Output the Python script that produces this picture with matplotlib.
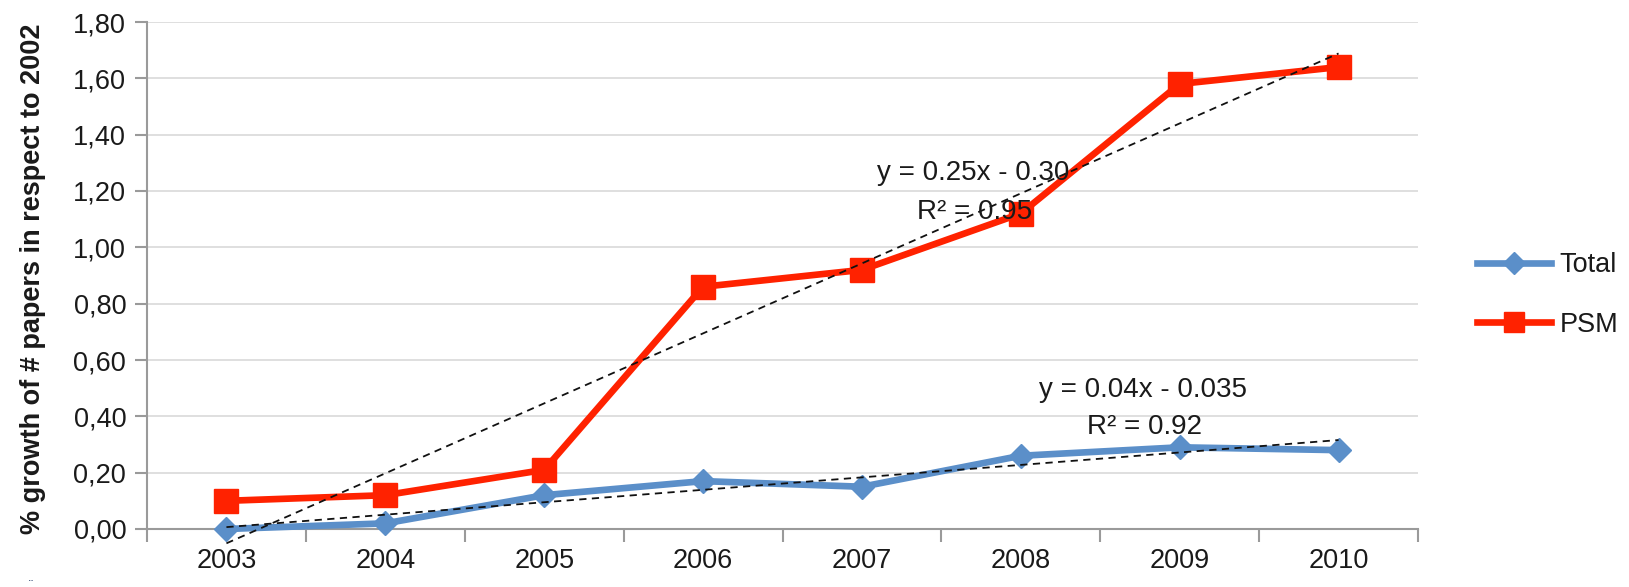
import numpy as np
import matplotlib
matplotlib.use("Agg")
import matplotlib.pyplot as plt
from matplotlib.lines import Line2D

plt.rcParams['font.family'] = ['Liberation Sans', 'DejaVu Sans']

years = ['2003', '2004', '2005', '2006', '2007', '2008', '2009', '2010']
total = [0.00, 0.02, 0.12, 0.17, 0.15, 0.26, 0.29, 0.28]
psm = [0.10, 0.12, 0.21, 0.86, 0.92, 1.12, 1.58, 1.64]
y_ticks = [0.0, 0.2, 0.4, 0.6, 0.8, 1.0, 1.2, 1.4, 1.6, 1.8]
y_tick_labels = ['0,00', '0,20', '0,40', '0,60', '0,80', '1,00', '1,20', '1,40', '1,60', '1,80']
total_eq = ['y = 0.04x - 0.035', 'R² = 0.92']
psm_eq = ['y = 0.25x - 0.30', 'R² = 0.95']

BLUE = '#5B8FC9'
RED = '#FF2200'
TXT = '#1a1a1a'
AXC = '#9a9a9a'

fig = plt.figure(figsize=(16.29, 5.87), dpi=100)
ax = fig.add_axes([147/1629, 1-529/587, (1418-147)/1629, (529-22)/587])

x = np.arange(len(years))
xn = x + 1

ax.plot(x, total, color=BLUE, lw=4.8, marker='D', ms=12.5, mec=BLUE, mfc=BLUE,
        solid_joinstyle='round', zorder=3, clip_on=False)
ax.plot(x, psm, color=RED, lw=4.8, marker='s', ms=17, mec=RED, mfc=RED,
        solid_joinstyle='round', zorder=3, clip_on=False)

# linear trendlines (fit on data)
for vals in (total, psm):
    k, b = np.polyfit(xn, vals, 1)
    ax.plot(x, k * xn + b, color='#111111', lw=1.3, ls=(0, (4, 3)), zorder=4,
            clip_on=False)

ax.set_xlim(-0.5, len(years) - 0.5)
ax.set_ylim(0, 1.8)
ax.set_yticks(y_ticks)
ax.set_yticklabels(y_tick_labels, fontsize=19.5, color=TXT)
ax.set_xticks(np.arange(-0.5, len(years)), minor=False)
ax.set_xticklabels([])
ax.set_xticks(x, minor=True)
ax.set_xticklabels(years, minor=True, fontsize=19.5, color=TXT)
ax.tick_params(axis='x', which='major', length=9, width=1.5, color=AXC, direction='out')
ax.tick_params(axis='x', which='minor', length=0, pad=14)
ax.tick_params(axis='y', length=9, width=1.5, color=AXC, direction='out', pad=6)

ax.grid(axis='y', color='#dcdcdc', lw=1.3, zorder=0)
ax.set_axisbelow(True)
for s in ('top', 'right'):
    ax.spines[s].set_visible(False)
for s in ('left', 'bottom'):
    ax.spines[s].set_color(AXC)
    ax.spines[s].set_linewidth(1.5)

ax.text(5.77, 0.493, total_eq[0], ha='center', va='center', fontsize=20, color=TXT, zorder=5)
ax.text(5.78, 0.362, total_eq[1], ha='center', va='center', fontsize=20, color=TXT, zorder=5)
ax.text(4.70, 1.264, psm_eq[0], ha='center', va='center', fontsize=20, color=TXT, zorder=5)
ax.text(4.71, 1.125, psm_eq[1], ha='center', va='center', fontsize=20, color=TXT, zorder=5)

fig.text(33/1629, 1-279/587, '% growth of # papers in respect to 2002', rotation=90,
         ha='center', va='center', fontsize=19.5, fontweight='bold', color=TXT)

handles = [Line2D([], [], color=BLUE, lw=4.8, marker='D', ms=11, mec=BLUE, mfc=BLUE),
           Line2D([], [], color=RED, lw=4.8, marker='s', ms=15, mec=RED, mfc=RED)]
fig.legend(handles, ['Total', 'PSM'], loc='center left',
           bbox_to_anchor=(1477/1629, 1-295/587), frameon=False, fontsize=19.5,
           borderpad=0, borderaxespad=0, handlelength=2.75, handletextpad=0.3,
           labelspacing=1.25, labelcolor=TXT)

fig.text(28/1629, 1-578/587, '..', fontsize=9, color='#1f3a6a', ha='left', va='center')

fig.savefig('out.png', dpi=100)
